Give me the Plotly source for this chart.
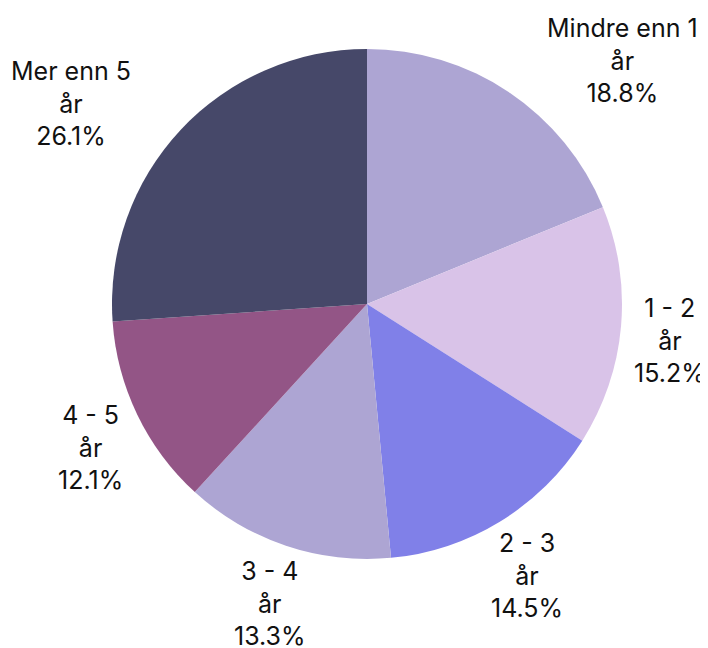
import plotly.graph_objects as go

categories = ["Mindre enn 1", "1 - 2", "2 - 3", "3 - 4", "4 - 5", "Mer enn 5"]
unit = "år"
values = [18.8, 15.2, 14.5, 13.3, 12.1, 26.1]
colors = ["#ADA5D3", "#D9C3E8", "#8080E8", "#ADA5D3", "#935586", "#464869"]

# label anchor positions (screen pixels), layout only
label_px = [(622, 60), (670, 340), (527, 575), (270, 603), (90, 447), (71, 104)]
PAGE_OFFSET = 8  # default body margin of the html page

W, H = 708, 648
ML, MR, MT, MB = 104, 94, 41, 97
PW, PH = W - ML - MR, H - MT - MB

fig = go.Figure(go.Pie(
    labels=categories,
    values=values,
    sort=False,
    direction="clockwise",
    marker=dict(colors=colors, line=dict(width=0)),
    textinfo="none",
    showlegend=False,
    hoverinfo="skip",
))

total = sum(values)
for cat, v, (px, py) in zip(categories, values, label_px):
    fx, fy = px - PAGE_OFFSET, py - PAGE_OFFSET
    fig.add_annotation(
        x=(fx - ML) / PW, y=(H - MB - fy) / PH,
        xref="paper", yref="paper",
        text=f"{cat}<br>{unit}<br>{v / total * 100:.1f}%",
        showarrow=False, xanchor="center", yanchor="middle",
        align="center",
        font=dict(family="Inter, Liberation Sans, Arial", size=25, color="#111111"),
    )

fig.update_layout(
    width=W, height=H,
    margin=dict(l=ML, r=MR, t=MT, b=MB, autoexpand=False),
    paper_bgcolor="white",
)
fig.write_html("out.html")
